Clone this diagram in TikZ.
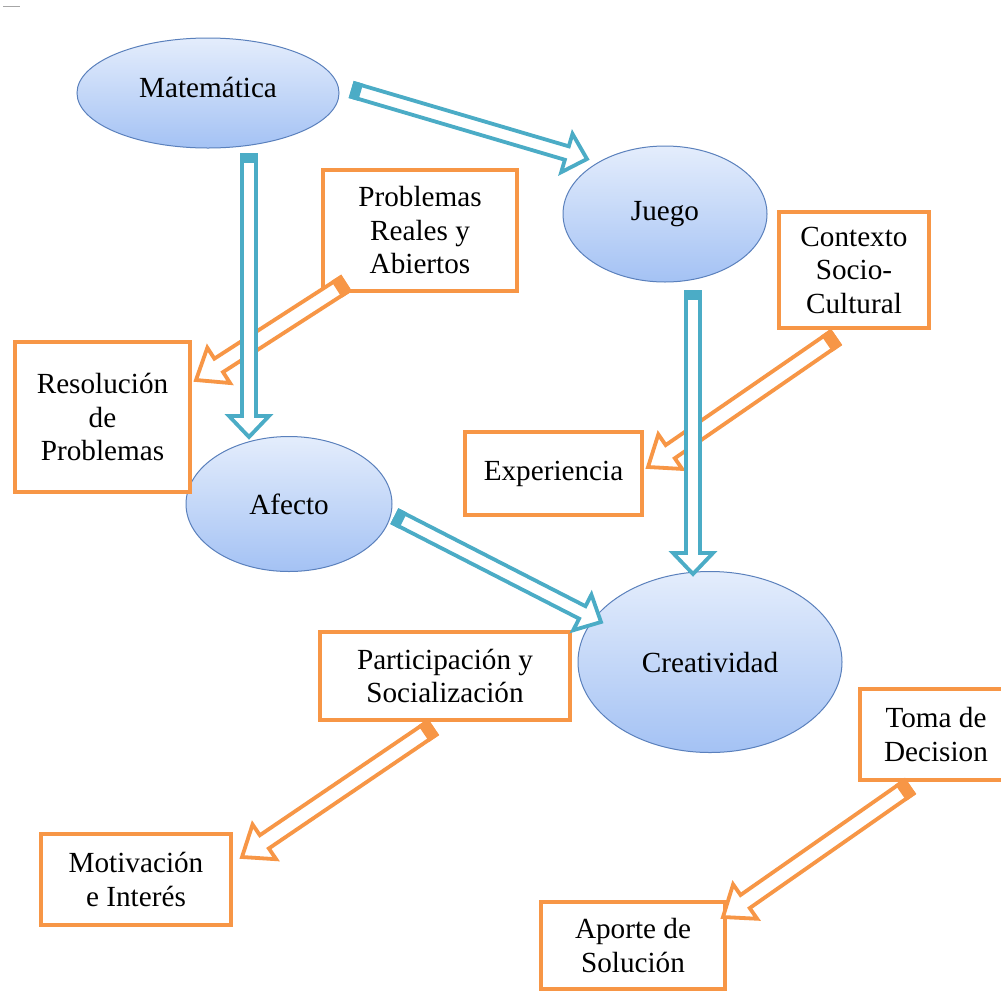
\documentclass[tikz,border=0pt]{standalone}
\usepackage{fontspec}
\setmainfont{Liberation Serif}
\usetikzlibrary{shapes.geometric}

\definecolor{accblue}{HTML}{4BACC6}
\definecolor{accorange}{HTML}{F79646}
\definecolor{ellline}{HTML}{5A80BC}
\definecolor{elltop}{HTML}{E4EDFC}
\definecolor{ellbot}{HTML}{A4C2F4}

% hollow block arrow: colour, tail coordinate, tip coordinate,
% shaft half-width, head half-width, head length, tail band length (all pt)
\newcommand\blockarrow[7]{%
  \pgfpointanchor{#2}{center}\pgfgetlastxy{\baxa}{\baya}%
  \pgfpointanchor{#3}{center}\pgfgetlastxy{\baxb}{\bayb}%
  \pgfmathsetmacro\baang{atan2(\bayb-\baya,\baxb-\baxa)}%
  \pgfmathsetmacro\balen{veclen(\baxb-\baxa,\bayb-\baya)}%
  \pgfmathsetmacro\babase{\balen-#6}%
  \begin{scope}[shift={(\baxa,\baya)}, rotate=\baang]
    \filldraw[draw=#1, fill=white, line width=3.8pt, line join=miter]
      (0pt,#4pt) -- (\babase pt,#4pt) -- (\babase pt,#5pt) -- (\balen pt,0pt)
      -- (\babase pt,-#5pt) -- (\babase pt,-#4pt) -- (0pt,-#4pt) -- cycle;
    \fill[#1] (-1.9pt,-#4pt-1.9pt) rectangle (#7pt,#4pt+1.9pt);
  \end{scope}}

\tikzset{
  concept/.style={ellipse, draw=ellline, line width=1pt, top color=elltop,
    bottom color=ellbot, inner sep=0pt},
  topic/.style={rectangle, draw=accorange, line width=4pt, fill=white,
    align=center, inner sep=0pt},
  every node/.style={font=\fontsize{29.2}{33.5}\selectfont}
}

\begin{document}
\begin{tikzpicture}[x=1pt,y=-1pt]
  \useasboundingbox (0,0) rectangle (1001,994);
  \clip (0,0) rectangle (1001,994);
  \fill[white] (0,0) rectangle (1001,994);
  \draw[gray!70, line width=1pt] (3,6) -- (20,6);

  % concepts
  \node[concept, minimum width=262pt, minimum height=110pt] (mat) at (208,93)
    {\raisebox{11pt}{Matemática}};
  \node[concept, minimum width=204pt, minimum height=136pt] (jue) at (665,214) {Juego};
  \node[concept, minimum width=206pt, minimum height=135pt] (afe) at (289,504) {Afecto};
  \node[concept, minimum width=264pt, minimum height=181pt] (cre) at (710,662) {Creatividad};

  % topics
  \node[topic, minimum width=194pt, minimum height=121pt] (prob) at (420,230.5)
    {Problemas\\Reales y\\Abiertos};
  \node[topic, minimum width=150pt, minimum height=116pt] (ctx) at (854,270)
    {Contexto\\Socio-\\Cultural};
  \node[topic, minimum width=175pt, minimum height=150pt] (res) at (102.5,417)
    {Resolución\\de\\Problemas};
  \node[topic, minimum width=177pt, minimum height=83pt] (exp) at (553.5,473.5)
    {Experiencia};
  \node[topic, minimum width=250pt, minimum height=88pt] (par) at (445,676)
    {Participación y\\Socialización};
  \node[topic, minimum width=190pt, minimum height=91pt] (mot) at (136,879.5)
    {Motivación\\e Interés};
  \node[topic, minimum width=152pt, minimum height=91pt] (tom) at (936,734.5)
    {Toma de\\Decision};
  \node[topic, minimum width=184pt, minimum height=87pt] (apo) at (633,945.5)
    {Aporte de\\Solución};

  % arrow end points
  \coordinate (pr-s) at (345,284);  \coordinate (pr-e) at (196,380);
  \coordinate (cx-s) at (835,338);  \coordinate (cx-e) at (648,467);
  \coordinate (pa-s) at (432,728);  \coordinate (pa-e) at (242,857);
  \coordinate (to-s) at (909,787);  \coordinate (to-e) at (723,917);
  \coordinate (mj-s) at (353,90);   \coordinate (mj-e) at (587,159);
  \coordinate (ma-s) at (249,155);  \coordinate (ma-e) at (249,437);
  \coordinate (jc-s) at (693,292);  \coordinate (jc-e) at (693,574);
  \coordinate (ac-s) at (396,517);  \coordinate (ac-e) at (601,622);

  % orange links between topics
  \blockarrow{accorange}{pr-s}{pr-e}{8}{21}{27}{10}
  \blockarrow{accorange}{cx-s}{cx-e}{8}{21}{27}{10}
  \blockarrow{accorange}{pa-s}{pa-e}{8}{21}{27}{10}
  \blockarrow{accorange}{to-s}{to-e}{8}{21}{27}{10}

  % blue links between concepts
  \blockarrow{accblue}{mj-s}{mj-e}{7}{20}{21}{8}
  \blockarrow{accblue}{ma-s}{ma-e}{7}{20}{21}{8}
  \blockarrow{accblue}{jc-s}{jc-e}{7}{20}{21}{8}
  \blockarrow{accblue}{ac-s}{ac-e}{7}{20}{21}{8}
\end{tikzpicture}
\end{document}
